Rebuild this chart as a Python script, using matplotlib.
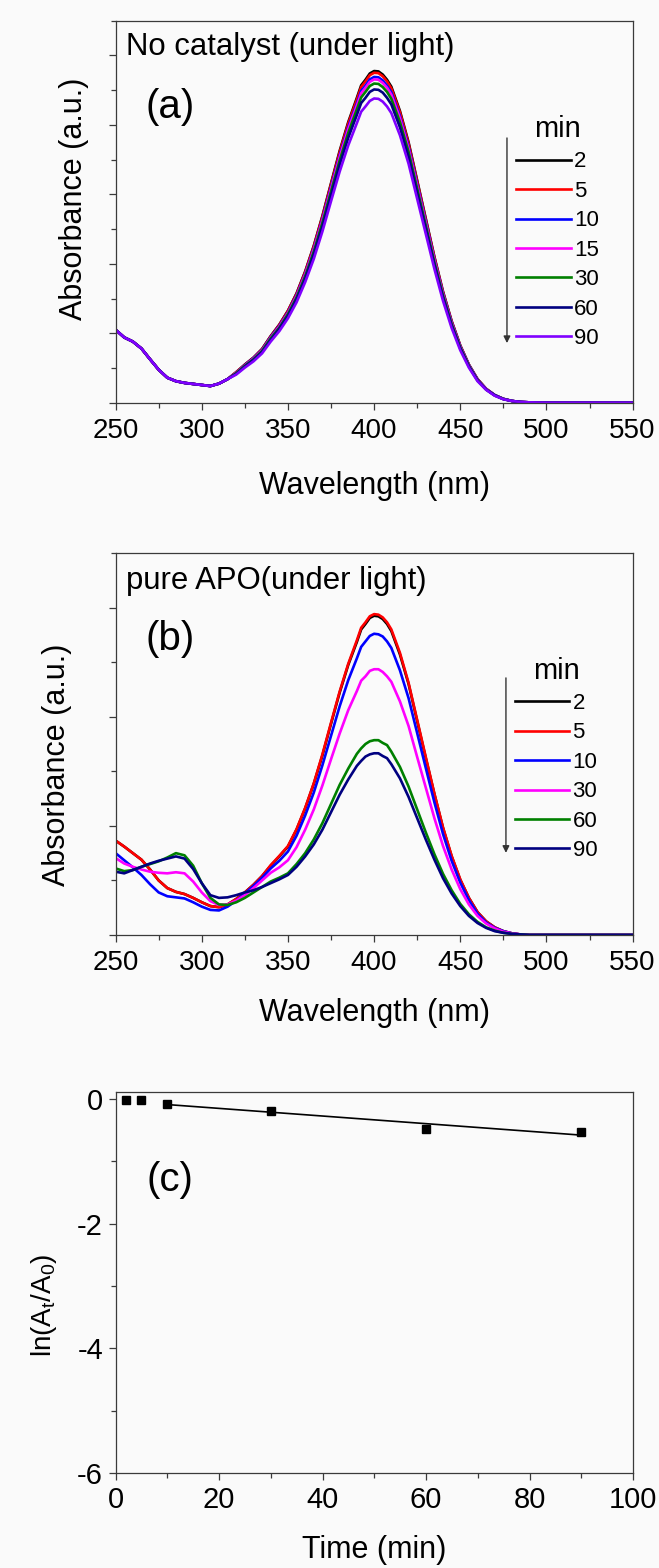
import numpy as np
import matplotlib
matplotlib.use("Agg")
import matplotlib.pyplot as plt
from matplotlib.ticker import MultipleLocator

plt.rcParams['font.family'] = ['Liberation Sans', 'DejaVu Sans']

# ---------------- data ----------------
wl = [250, 255, 260, 265, 270, 275, 280, 285, 290, 295, 300, 305, 310, 315,
      320, 325, 330, 335, 340, 345, 350, 355, 360, 365, 370, 375, 380, 385,
      390, 392.5, 395, 397.5, 400, 402.5, 405, 407.5, 410, 415, 420, 425, 430, 435,
      440, 445, 450, 455, 460, 465, 470, 475, 480, 485, 490, 500, 525, 550]

uv_common_a = [2.10, 1.88, 1.76, 1.56, 1.25, 0.95, 0.72, 0.62, 0.57, 0.54,
               0.51, 0.48, 0.55, 0.68]

a_2 = uv_common_a + [0.88, 1.10, 1.30, 1.55, 1.92, 2.25, 2.65, 3.15, 3.78, 4.52, 5.38, 6.32, 7.25, 8.08,
                     8.78, 9.14, 9.30, 9.48, 9.55, 9.54, 9.45, 9.30, 9.10, 8.40, 7.50, 6.40, 5.30, 4.20,
                     3.20, 2.35, 1.65, 1.10, 0.68, 0.40, 0.22, 0.11, 0.05, 0.02, 0.01, 0.0, 0.0, 0.0]
a_5 = uv_common_a + [0.88, 1.09, 1.29, 1.54, 1.91, 2.24, 2.64, 3.13, 3.76, 4.50, 5.35, 6.29, 7.21, 8.04,
                     8.73, 9.09, 9.25, 9.43, 9.50, 9.49, 9.40, 9.25, 9.05, 8.36, 7.46, 6.37, 5.27, 4.18,
                     3.18, 2.34, 1.64, 1.09, 0.68, 0.40, 0.22, 0.11, 0.05, 0.02, 0.01, 0.0, 0.0, 0.0]
a_10 = uv_common_a + [0.86, 1.08, 1.28, 1.52, 1.89, 2.21, 2.60, 3.09, 3.71, 4.44, 5.28, 6.21, 7.12, 7.94,
                      8.62, 8.98, 9.13, 9.31, 9.38, 9.37, 9.28, 9.13, 8.94, 8.25, 7.37, 6.29, 5.21, 4.12,
                      3.14, 2.31, 1.62, 1.08, 0.67, 0.39, 0.22, 0.11, 0.05, 0.02, 0.01, 0.0, 0.0, 0.0]
a_15 = uv_common_a + [0.86, 1.07, 1.27, 1.51, 1.87, 2.19, 2.58, 3.07, 3.69, 4.41, 5.25, 6.16, 7.07, 7.88,
                      8.56, 8.91, 9.07, 9.24, 9.31, 9.30, 9.21, 9.07, 8.87, 8.19, 7.31, 6.24, 5.17, 4.10,
                      3.12, 2.29, 1.61, 1.07, 0.66, 0.39, 0.21, 0.11, 0.05, 0.02, 0.01, 0.0, 0.0, 0.0]
a_30 = uv_common_a + [0.85, 1.06, 1.25, 1.49, 1.85, 2.16, 2.55, 3.03, 3.64, 4.35, 5.18, 6.08, 6.97, 7.77,
                      8.45, 8.79, 8.95, 9.12, 9.19, 9.18, 9.09, 8.95, 8.75, 8.08, 7.22, 6.16, 5.10, 4.04,
                      3.08, 2.26, 1.59, 1.06, 0.65, 0.38, 0.21, 0.11, 0.05, 0.02, 0.01, 0.0, 0.0, 0.0]
a_60 = uv_common_a + [0.83, 1.04, 1.23, 1.46, 1.81, 2.13, 2.50, 2.98, 3.57, 4.27, 5.08, 5.97, 6.85, 7.63,
                      8.29, 8.63, 8.78, 8.95, 9.02, 9.01, 8.93, 8.78, 8.59, 7.93, 7.08, 6.04, 5.01, 3.97,
                      3.02, 2.22, 1.56, 1.04, 0.64, 0.38, 0.21, 0.10, 0.05, 0.02, 0.01, 0.0, 0.0, 0.0]
a_90 = uv_common_a + [0.81, 1.01, 1.19, 1.42, 1.76, 2.06, 2.43, 2.89, 3.47, 4.14, 4.93, 5.80, 6.65, 7.41,
                      8.05, 8.38, 8.53, 8.69, 8.76, 8.75, 8.67, 8.53, 8.34, 7.70, 6.88, 5.87, 4.86, 3.85,
                      2.93, 2.15, 1.51, 1.01, 0.62, 0.37, 0.20, 0.10, 0.05, 0.02, 0.01, 0.0, 0.0, 0.0]

b_2 = [1.73, 1.62, 1.50, 1.38, 1.20, 1.00, 0.86, 0.79, 0.75, 0.68, 0.60, 0.53, 0.51, 0.56,
       0.66, 0.78, 0.92, 1.08, 1.27, 1.44, 1.62, 1.93, 2.32, 2.77, 3.29, 3.87, 4.44, 4.95,
       5.37, 5.60, 5.70, 5.81, 5.85, 5.84, 5.79, 5.70, 5.57, 5.14, 4.60, 3.92, 3.24, 2.58,
       1.96, 1.44, 1.01, 0.68, 0.42, 0.25, 0.14, 0.07, 0.03, 0.01, 0.0, 0.0, 0.0, 0.0]
b_5 = [1.73, 1.62, 1.50, 1.38, 1.20, 1.00, 0.86, 0.79, 0.75, 0.68, 0.60, 0.53, 0.51, 0.56,
       0.66, 0.78, 0.92, 1.08, 1.28, 1.45, 1.63, 1.94, 2.33, 2.78, 3.31, 3.89, 4.46, 4.97,
       5.40, 5.63, 5.73, 5.84, 5.88, 5.87, 5.82, 5.73, 5.60, 5.17, 4.62, 3.94, 3.26, 2.59,
       1.97, 1.45, 1.02, 0.68, 0.42, 0.25, 0.14, 0.07, 0.03, 0.01, 0.0, 0.0, 0.0, 0.0]
b_10 = [1.50, 1.37, 1.24, 1.10, 0.93, 0.78, 0.71, 0.69, 0.67, 0.60, 0.52, 0.46, 0.45, 0.52,
        0.63, 0.76, 0.90, 1.05, 1.22, 1.36, 1.53, 1.82, 2.19, 2.61, 3.11, 3.65, 4.19, 4.67,
        5.07, 5.28, 5.38, 5.48, 5.52, 5.51, 5.47, 5.38, 5.26, 4.85, 4.34, 3.70, 3.06, 2.43,
        1.85, 1.36, 0.96, 0.64, 0.39, 0.23, 0.13, 0.07, 0.03, 0.01, 0.0, 0.0, 0.0, 0.0]
b_30 = [1.41, 1.31, 1.25, 1.20, 1.16, 1.14, 1.13, 1.15, 1.13, 0.98, 0.78, 0.62, 0.55, 0.56,
        0.63, 0.73, 0.86, 1.00, 1.14, 1.24, 1.37, 1.61, 1.93, 2.30, 2.74, 3.22, 3.69, 4.12,
        4.47, 4.66, 4.74, 4.84, 4.87, 4.87, 4.82, 4.74, 4.64, 4.28, 3.83, 3.26, 2.70, 2.14,
        1.63, 1.20, 0.84, 0.56, 0.35, 0.21, 0.12, 0.06, 0.03, 0.01, 0.0, 0.0, 0.0, 0.0]
b_60 = [1.22, 1.17, 1.19, 1.25, 1.30, 1.35, 1.42, 1.50, 1.46, 1.27, 0.95, 0.68, 0.56, 0.55,
        0.60, 0.68, 0.78, 0.88, 0.98, 1.05, 1.13, 1.30, 1.50, 1.75, 2.05, 2.40, 2.75, 3.05,
        3.32, 3.42, 3.50, 3.55, 3.57, 3.57, 3.52, 3.48, 3.36, 3.08, 2.72, 2.30, 1.88, 1.48,
        1.12, 0.82, 0.57, 0.38, 0.24, 0.14, 0.08, 0.04, 0.02, 0.01, 0.0, 0.0, 0.0, 0.0]
b_90 = [1.16, 1.13, 1.19, 1.25, 1.31, 1.36, 1.40, 1.44, 1.40, 1.21, 0.95, 0.73, 0.68, 0.69,
        0.73, 0.78, 0.82, 0.88, 0.95, 1.02, 1.10, 1.25, 1.44, 1.66, 1.93, 2.25, 2.57, 2.85,
        3.10, 3.19, 3.27, 3.31, 3.33, 3.33, 3.28, 3.24, 3.13, 2.87, 2.53, 2.14, 1.75, 1.38,
        1.04, 0.76, 0.53, 0.35, 0.22, 0.13, 0.07, 0.04, 0.02, 0.01, 0.0, 0.0, 0.0, 0.0]

series_a = [("2", a_2), ("5", a_5), ("10", a_10), ("15", a_15), ("30", a_30), ("60", a_60), ("90", a_90)]
colors_a = ["#000000", "#ff0000", "#0000ff", "#ff00ff", "#008000", "#000080", "#8000ff"]
series_b = [("2", b_2), ("5", b_5), ("10", b_10), ("30", b_30), ("60", b_60), ("90", b_90)]
colors_b = ["#000000", "#ff0000", "#0000ff", "#ff00ff", "#008000", "#000080"]

t_min = [2, 5, 10, 30, 60, 90]
ln_ratio = [-0.02, -0.02, -0.075, -0.19, -0.49, -0.53]

# ---------------- figure ----------------
W, H = 659, 1568
BG = "#fafafa"
fig = plt.figure(figsize=(W / 100, H / 100), dpi=100, facecolor=BG)

SPINE = "#3a3a3a"


def style_axes(ax):
    ax.set_facecolor(BG)
    for s in ax.spines.values():
        s.set_color(SPINE)
        s.set_linewidth(0.9)
    ax.tick_params(which="major", direction="out", length=5, width=0.9, color=SPINE,
                   labelsize=20, pad=6, top=False, right=False)
    ax.tick_params(which="minor", direction="out", length=3.5, width=0.9, color=SPINE,
                   top=False, right=False)


def px_axes(left, top, right, bottom):
    return fig.add_axes([left / W, 1 - bottom / H, (right - left) / W, (bottom - top) / H])


def spectrum_panel(ax, series, colors, ymax, title, tag, ylab_x, ylab_y, xlab_y,
                   leg_anchor, arrow_x, arrow_y0, arrow_y1):
    style_axes(ax)
    for (lab, vals), c in zip(series, colors):
        ax.plot(wl, vals, color=c, lw=1.9, label=lab)
    ax.set_xlim(250, 550)
    ax.set_ylim(0, ymax)
    ax.xaxis.set_major_locator(MultipleLocator(50))
    ax.xaxis.set_minor_locator(MultipleLocator(25))
    ax.yaxis.set_major_locator(MultipleLocator(2))
    ax.yaxis.set_minor_locator(MultipleLocator(1))
    ax.tick_params(axis="y", which="both", labelleft=False)
    ax.set_xlabel("Wavelength (nm)", fontsize=22)
    ax.set_ylabel("Absorbance (a.u.)", fontsize=22)
    ax.yaxis.set_label_coords(ylab_x, ylab_y)
    ax.xaxis.set_label_coords(0.5, xlab_y)
    ax.text(0.02, 0.93 if tag != "(b)" else 0.928, title, transform=ax.transAxes,
            fontsize=22.4, va="center", ha="left")
    ax.text(0.057, 0.775, tag, transform=ax.transAxes, fontsize=29, va="center", ha="left")
    leg = ax.legend(loc="upper left", bbox_to_anchor=leg_anchor, frameon=False,
                    title="min", title_fontsize=21, fontsize=16, handlelength=2.45,
                    handletextpad=0.15, labelspacing=0.38, borderpad=0, borderaxespad=0)
    leg._legend_box.align = "center"
    ax.annotate("", xy=(arrow_x, arrow_y1), xytext=(arrow_x, arrow_y0),
                xycoords="axes fraction",
                arrowprops=dict(arrowstyle="-|>", color="#333333", lw=1.0,
                                mutation_scale=10, shrinkA=0, shrinkB=0))


ax_a = px_axes(115.6, 20.7, 632.6, 402.7)
spectrum_panel(ax_a, series_a, colors_a, 11, "No catalyst (under light)", "(a)",
               -0.052, 0.535, -0.178, (0.775, 0.753), 0.757, 0.693, 0.156)

ax_b = px_axes(115.6, 553, 632.6, 935)
spectrum_panel(ax_b, series_b, colors_b, 7, "pure APO(under light)", "(b)",
               -0.084, 0.445, -0.165, (0.772, 0.729), 0.755, 0.673, 0.215)

# ---------------- panel (c) ----------------
ax_c = px_axes(115.6, 1092, 633, 1473)
style_axes(ax_c)
ax_c.tick_params(which="major", labelsize=21, pad=4)
ax_c.plot(t_min, ln_ratio, ls="none", marker="s", ms=6, color="black")
fit = np.polyfit(t_min[2:], ln_ratio[2:], 1)
fit_x = np.array([t_min[2], t_min[-1]])
ax_c.plot(fit_x, np.polyval(fit, fit_x), color="black", lw=1.2)
ax_c.set_xlim(0, 100)
ax_c.set_ylim(-6, 0.11)
ax_c.xaxis.set_major_locator(MultipleLocator(20))
ax_c.xaxis.set_minor_locator(MultipleLocator(10))
ax_c.yaxis.set_major_locator(MultipleLocator(2))
ax_c.yaxis.set_minor_locator(MultipleLocator(1))
ax_c.set_yticks([0, -2, -4, -6])
ax_c.set_yticklabels(["0", "-2", "-4", "-6"])
ax_c.set_xlabel("Time (min)", fontsize=22)
ax_c.set_ylabel(r"ln(A$_\mathregular{t}$/A$_\mathregular{0}$)", fontsize=20)
ax_c.yaxis.set_label_coords(-0.109, 0.44)
ax_c.xaxis.set_label_coords(0.5, -0.163)
ax_c.text(0.06, 0.769, "(c)", transform=ax_c.transAxes, fontsize=29, va="center", ha="left")

fig.savefig("out.png", dpi=100, facecolor=BG)
